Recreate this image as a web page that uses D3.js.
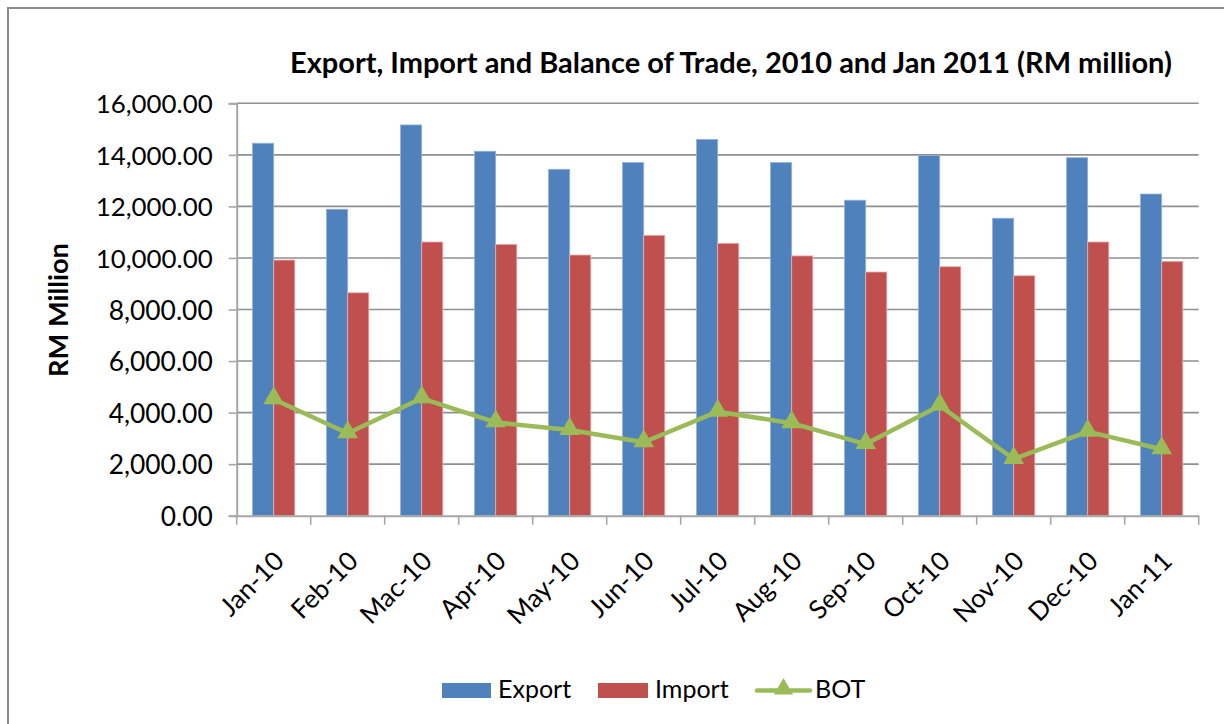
<!DOCTYPE html>
<html><head><meta charset="utf-8">
<script src="https://cdn.jsdelivr.net/npm/d3@7"></script>
<style>body{margin:0;background:#fff;} svg{display:block;} text{font-family:Lato,"Open Sans",sans-serif;fill:#000;}</style>
</head><body>
<svg id="c" width="1224" height="724"></svg>
<script>
const categories = ["Jan-10","Feb-10","Mac-10","Apr-10","May-10","Jun-10","Jul-10","Aug-10","Sep-10","Oct-10","Nov-10","Dec-10","Jan-11"];
const exportVals = [14450,11890,15160,14140,13440,13700,14600,13700,12240,13970,11540,13890,12480];
const importVals = [9920,8650,10620,10530,10115,10880,10570,10080,9455,9660,9310,10620,9870];
const botVals = [4520,3200,4555,3620,3325,2850,4035,3590,2780,4270,2200,3260,2580];
const yTicks = [0,2000,4000,6000,8000,10000,12000,14000,16000];
const seriesNames = ["Export","Import","BOT"];
const colors = {Export:"#4F81BD", Import:"#C0504D", BOT:"#9BBB59"};
const titleText = "Export, Import and Balance of Trade, 2010 and Jan 2011 (RM million)";
const yTitle = "RM Million";

(function(){
const svg = d3.select("#c");
svg.append("rect").attr("x",8).attr("y",8).attr("width",1240).attr("height",740)
  .attr("fill","none").attr("stroke","#8c8c8c").attr("stroke-width",2);

const pLeft = 236.7, pRight = 1198.7, pTop = 103.3, pBottom = 515.7;
const x = d3.scaleBand().domain(categories).range([pLeft,pRight]).padding(0);
const y = d3.scaleLinear().domain([0,16000]).range([pBottom,pTop]);
const bw = x.bandwidth()/3.5;

function fit(sel, target){
  const w = sel.node().getComputedTextLength();
  const fs = parseFloat(sel.attr("font-size"));
  sel.attr("font-size", fs*target/w);
}

svg.append("g").selectAll("line").data(yTicks.filter(d=>d>0)).join("line")
  .attr("x1",pLeft).attr("x2",pRight).attr("y1",d=>y(d)).attr("y2",d=>y(d))
  .attr("stroke","#8f8f8f").attr("stroke-width",1.6);

const yAxis = d3.axisLeft(y).tickValues(yTicks).tickSize(8).tickFormat(d3.format(",.2f"));
const ga = svg.append("g").attr("transform",`translate(${pLeft},0)`).call(yAxis);
ga.select(".domain").attr("stroke","#a6a6a6").attr("stroke-width",2);
ga.selectAll(".tick line").attr("stroke","#a6a6a6").attr("stroke-width",1.6);
ga.selectAll(".tick text").attr("font-family","Lato").attr("font-size",24).attr("fill","#000")
  .attr("x",-24).attr("dy","0.36em");
ga.selectAll(".tick text").each(function(){ fit(d3.select(this), 117*d3.select(this).text().length/9); });

const gb = svg.append("g");
gb.selectAll("rect.exp").data(categories).join("rect").attr("class","exp")
  .attr("x",d=>x(d)+x.bandwidth()/2-bw).attr("width",bw)
  .attr("y",(d,i)=>y(exportVals[i])).attr("height",(d,i)=>pBottom-y(exportVals[i]))
  .attr("fill",colors.Export).attr("stroke","#95b3d7").attr("stroke-width",0.8);
gb.selectAll("rect.imp").data(categories).join("rect").attr("class","imp")
  .attr("x",d=>x(d)+x.bandwidth()/2).attr("width",bw)
  .attr("y",(d,i)=>y(importVals[i])).attr("height",(d,i)=>pBottom-y(importVals[i]))
  .attr("fill",colors.Import).attr("stroke","#e6b9b8").attr("stroke-width",0.8);

const xAxis = d3.axisBottom(x).tickSize(0).tickFormat("");
const gx = svg.append("g").attr("transform",`translate(0,${pBottom})`).call(xAxis);
gx.select(".domain").attr("stroke","#a6a6a6").attr("stroke-width",2);
const bounds = categories.map(c=>x(c)).concat([pRight]);
svg.append("g").selectAll("line").data(bounds).join("line")
  .attr("x1",d=>d).attr("x2",d=>d).attr("y1",pBottom).attr("y2",pBottom+9)
  .attr("stroke","#a6a6a6").attr("stroke-width",1.6);
svg.append("g").selectAll("text").data(categories).join("text")
  .attr("transform",d=>`translate(${x(d)+x.bandwidth()/2+12},${pBottom+47}) rotate(-45)`)
  .attr("text-anchor","end").attr("font-size",26).text(d=>d);

const line = d3.line().x((d,i)=>x(categories[i])+x.bandwidth()/2).y(d=>y(d));
svg.append("path").datum(botVals).attr("d",line).attr("fill","none")
  .attr("stroke",colors.BOT).attr("stroke-width",4.5).attr("stroke-linejoin","round");
const tri = d3.symbol().type(d3.symbolTriangle).size(185);
svg.append("g").selectAll("path").data(botVals).join("path")
  .attr("d",tri).attr("transform",(d,i)=>`translate(${x(categories[i])+x.bandwidth()/2},${y(d)-1})`)
  .attr("fill",colors.BOT);

const t = svg.append("text").attr("x",290).attr("y",73).attr("font-size",26).attr("font-weight","bold").text(titleText);
fit(t, 882);

const yt = svg.append("text").attr("transform","translate(68,310) rotate(-90)").attr("text-anchor","middle")
  .attr("font-size",24).attr("font-weight","bold").text(yTitle);
fit(yt, 134);

const lg = svg.append("g");
lg.append("rect").attr("x",442).attr("y",683).attr("width",49).attr("height",15).attr("fill",colors.Export);
lg.append("text").attr("x",498).attr("y",698).attr("font-size",25).text(seriesNames[0]);
lg.append("rect").attr("x",598).attr("y",683).attr("width",50).attr("height",15).attr("fill",colors.Import);
lg.append("text").attr("x",655).attr("y",698).attr("font-size",25).text(seriesNames[1]);
lg.append("line").attr("x1",757).attr("x2",810).attr("y1",690.5).attr("y2",690.5).attr("stroke",colors.BOT).attr("stroke-width",4.5).attr("stroke-linecap","round");
lg.append("path").attr("d",d3.symbol().type(d3.symbolTriangle).size(160)).attr("transform","translate(783.5,689)").attr("fill",colors.BOT);
lg.append("text").attr("x",815).attr("y",698).attr("font-size",25).text(seriesNames[2]);
})();
</script>
</body></html>
